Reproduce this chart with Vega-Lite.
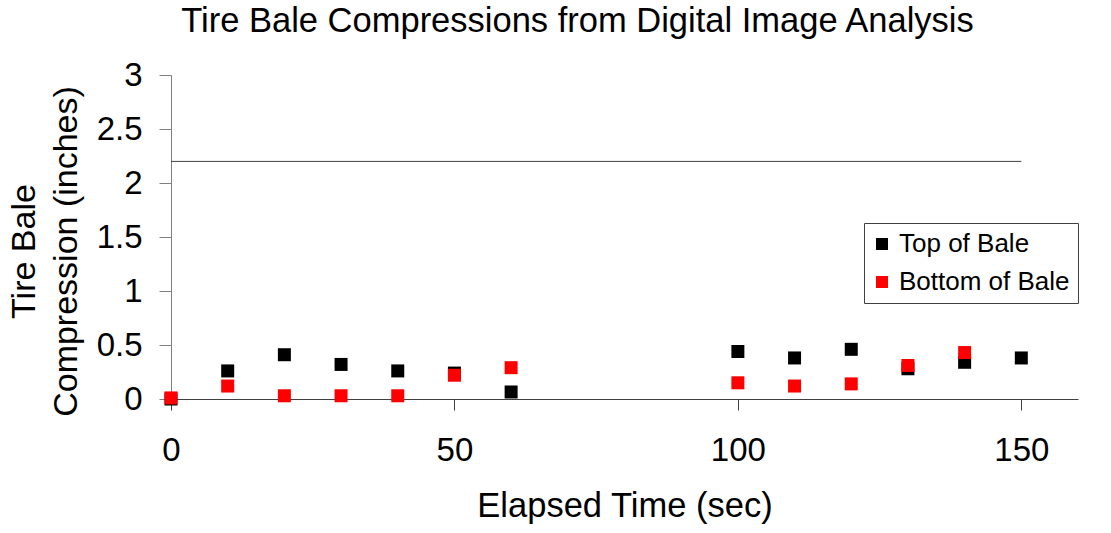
{
  "$schema": "https://vega.github.io/schema/vega-lite/v6.json",
  "width": 907,
  "height": 324,
  "autosize": {"type": "none"},
  "padding": {"left": 171, "top": 75, "right": 33, "bottom": 134},
  "background": "white",
  "config": {
    "font": "Liberation Sans",
    "view": {"stroke": null},
    "axis": {"grid": false, "labelColor": "black", "titleColor": "black", "titleFontWeight": "normal"}
  },
  "title": {
    "text": "Tire Bale Compressions from Digital Image Analysis",
    "fontSize": 34.5,
    "fontWeight": "normal",
    "color": "black",
    "anchor": "middle",
    "frame": "group",
    "dx": -47,
    "offset": 20
  },
  "datasets": {
    "ref": [{"start": 0, "end": 150, "level": 2.2}],
    "points": [
      {"time": 0, "value": 0.0, "series": "Top of Bale"},
      {"time": 10, "value": 0.26, "series": "Top of Bale"},
      {"time": 20, "value": 0.41, "series": "Top of Bale"},
      {"time": 30, "value": 0.32, "series": "Top of Bale"},
      {"time": 40, "value": 0.26, "series": "Top of Bale"},
      {"time": 50, "value": 0.24, "series": "Top of Bale"},
      {"time": 60, "value": 0.065, "series": "Top of Bale"},
      {"time": 100, "value": 0.44, "series": "Top of Bale"},
      {"time": 110, "value": 0.38, "series": "Top of Bale"},
      {"time": 120, "value": 0.46, "series": "Top of Bale"},
      {"time": 130, "value": 0.28, "series": "Top of Bale"},
      {"time": 140, "value": 0.34, "series": "Top of Bale"},
      {"time": 150, "value": 0.38, "series": "Top of Bale"},
      {"time": 0, "value": 0.01, "series": "Bottom of Bale"},
      {"time": 10, "value": 0.12, "series": "Bottom of Bale"},
      {"time": 20, "value": 0.03, "series": "Bottom of Bale"},
      {"time": 30, "value": 0.03, "series": "Bottom of Bale"},
      {"time": 40, "value": 0.03, "series": "Bottom of Bale"},
      {"time": 50, "value": 0.22, "series": "Bottom of Bale"},
      {"time": 60, "value": 0.29, "series": "Bottom of Bale"},
      {"time": 100, "value": 0.15, "series": "Bottom of Bale"},
      {"time": 110, "value": 0.12, "series": "Bottom of Bale"},
      {"time": 120, "value": 0.14, "series": "Bottom of Bale"},
      {"time": 130, "value": 0.31, "series": "Bottom of Bale"},
      {"time": 140, "value": 0.43, "series": "Bottom of Bale"}
    ]
  },
  "layer": [
    {
      "data": {"name": "ref"},
      "mark": {"type": "rule", "color": "#404040", "strokeWidth": 1},
      "encoding": {
        "x": {
          "field": "start",
          "type": "quantitative",
          "scale": {"domain": [0, 160], "nice": false, "zero": false},
          "axis": {
            "values": [0, 50, 100, 150],
            "title": "Elapsed Time (sec)",
            "titleFontSize": 34.5,
            "labelFontSize": 33,
            "tickSize": 11,
            "labelPadding": 24,
            "titlePadding": 22,
            "domainColor": "#404040",
            "tickColor": "#404040",
            "labelFlush": false,
            "labelOverlap": false
          }
        },
        "x2": {"field": "end"},
        "y": {
          "field": "level",
          "type": "quantitative",
          "scale": {"domain": [0, 3], "nice": false},
          "axis": {
            "values": [0, 0.5, 1, 1.5, 2, 2.5, 3],
            "format": "~g",
            "title": ["Tire Bale", "Compression (inches)"],
            "titleFontSize": 34,
            "labelFontSize": 33,
            "tickSize": 12,
            "labelPadding": 17,
            "domainColor": "#808080",
            "tickColor": "#808080",
            "titleX": -147,
            "titleY": 176,
            "titleAngle": -90,
            "titleAlign": "center",
            "titleBaseline": "middle",
            "titleLineHeight": 42,
            "labelOverlap": false
          }
        }
      }
    },
    {
      "data": {"name": "points"},
      "mark": {"type": "square", "size": 169, "opacity": 1, "filled": true},
      "encoding": {
        "x": {"field": "time", "type": "quantitative", "title": "Elapsed Time (sec)"},
        "y": {"field": "value", "type": "quantitative", "title": ["Tire Bale", "Compression (inches)"]},
        "color": {
          "field": "series",
          "type": "nominal",
          "scale": {"domain": ["Top of Bale", "Bottom of Bale"], "range": ["#000000", "#FF0000"]},
          "legend": {
            "title": null,
            "orient": "none",
            "legendX": 693,
            "legendY": 148,
            "strokeColor": "#404040",
            "fillColor": "white",
            "padding": 8,
            "labelFontSize": 26,
            "labelColor": "black",
            "labelLimit": 400,
            "symbolType": "square",
            "symbolSize": 144,
            "symbolStrokeWidth": 0,
            "rowPadding": 12,
            "symbolOffset": -3,
            "labelOffset": 4
          }
        }
      }
    }
  ]
}
